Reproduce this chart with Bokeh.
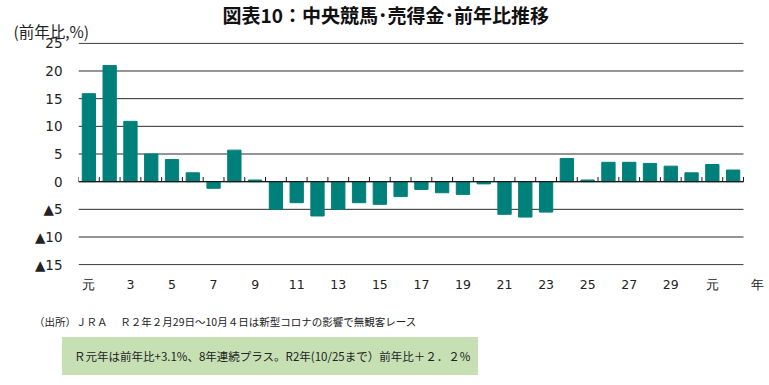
from bokeh.plotting import figure
from bokeh.models import Range1d, FixedTicker, Title, Div
from bokeh.layouts import column
from bokeh.embed import file_html
from bokeh.resources import INLINE

# ---- data ----
years = ["元", "2", "3", "4", "5", "6", "7", "8", "9", "10", "11", "12", "13", "14", "15",
         "16", "17", "18", "19", "20", "21", "22", "23", "24", "25", "26", "27", "28", "29",
         "30", "元", "2"]
values = [15.9, 21.0, 10.9, 5.0, 4.0, 1.6, -1.2, 5.7, 0.3, -5.0, -3.8, -6.2, -5.0, -3.8,
          -4.1, -2.7, -1.4, -2.0, -2.3, -0.4, -5.9, -6.4, -5.5, 4.2, 0.3, 3.5, 3.5, 3.3,
          2.8, 1.6, 3.1, 2.1]
y_ticks = [-15, -10, -5, 0, 5, 10, 15, 20, 25]
y_tick_labels = ["▲15", "▲10", "▲5", "0", "5", "10", "15", "20", "25"]

title_text = "図表10：中央競馬･売得金･前年比推移"
unit_text = "(前年比,%)"
year_text = "年"
note_text = "（出所）ＪＲＡ　 Ｒ２年２月29日～10月４日は新型コロナの影響で無観客レース"
box_text = "Ｒ元年は前年比+3.1%、8年連続プラス。R2年(10/25まで）前年比＋２．２%"

JP = "Noto Sans CJK JP"
NUM = "DejaVu Sans"
BAR = "#00807A"
GRID = "#2b2b2b"
W = 766

n = len(years)
xs = list(range(1, n + 1))
x_year = n + 1.17          # position of the axis unit "年"

# ---------------- chart ----------------
p = figure(width=W, height=298, output_backend="svg", toolbar_location=None,
           x_range=Range1d(0.5, n + 1.51), y_range=Range1d(-15.15, 25.15),
           min_border_left=78, min_border_right=2, min_border_top=42, min_border_bottom=33)
p.outline_line_color = None
p.background_fill_color = "white"
p.border_fill_color = "white"
p.xgrid.visible = False
p.ygrid.visible = False

# horizontal gridlines over the category span only
p.segment(x0=[0.5] * len(y_ticks), y0=y_ticks, x1=[n + 0.5] * len(y_ticks), y1=y_ticks,
          line_color=GRID, line_width=1)

p.vbar(x=xs, top=values, bottom=0, width=0.64, fill_color=BAR, line_color=BAR)

# zero line and category-boundary tick marks
p.segment(x0=[0.5], y0=[0], x1=[n + 0.5], y1=[0], line_color="#1a1a1a", line_width=1.3)
bounds = [i + 0.5 for i in range(0, n + 1)]
p.segment(x0=bounds, y0=[0] * len(bounds), x1=bounds, y1=[0.85] * len(bounds),
          line_color="#1a1a1a", line_width=1)

# y axis
p.yaxis.ticker = FixedTicker(ticks=y_ticks)
p.yaxis.major_label_overrides = {t: l for t, l in zip(y_ticks, y_tick_labels)}
p.yaxis.axis_line_color = None
p.yaxis.major_tick_line_color = None
p.yaxis.minor_tick_line_color = None
p.yaxis.major_tick_out = 0
p.yaxis.major_tick_in = 0
p.yaxis.minor_tick_out = 0
p.yaxis.major_label_standoff = 16
p.yaxis.major_label_text_font = NUM
p.yaxis.major_label_text_font_size = "13.5px"
p.yaxis.major_label_text_color = "#222222"

# x axis (odd years labelled, plus the unit "年")
xt = xs[0::2] + [x_year]
overrides = {x: years[x - 1] for x in xs[0::2]}
overrides[x_year] = year_text
p.xaxis.ticker = FixedTicker(ticks=xt)
p.xaxis.major_label_overrides = overrides
p.xaxis.axis_line_color = None
p.xaxis.major_tick_line_color = None
p.xaxis.minor_tick_line_color = None
p.xaxis.major_tick_out = 0
p.xaxis.major_tick_in = 0
p.xaxis.minor_tick_out = 0
p.xaxis.major_label_standoff = 11
p.xaxis.major_label_text_font = NUM
p.xaxis.major_label_text_font_size = "12.5px"
p.xaxis.major_label_text_color = "#222222"

# titles above: main title outermost, unit label next to the frame
p.title.text = title_text
p.title.text_font = JP
p.title.text_font_size = "19px"
p.title.text_font_style = "bold"
p.title.text_color = "#111111"
p.title.align = "left"
p.title.offset = 144
p.title.standoff = -20

p.add_layout(Title(text=unit_text, text_font=JP, text_font_size="15.5px",
                   text_font_style="normal", text_color="#222222",
                   align="left", offset=-65, standoff=1), "above")

# ---------------- notes strip ----------------
notes_html = (
    '<div style="position:relative;width:%dpx;height:85px;'
    'font-family:\'Noto Sans CJK JP\';color:#222222;">'
    '<div style="position:absolute;left:29px;top:11px;font-size:10.5px;'
    'line-height:16px;white-space:nowrap;">%s</div>'
    '<div style="position:absolute;left:57px;top:34px;height:38px;line-height:38px;'
    'padding:0 8px 0 12px;background:#C6E0B4;font-size:11.5px;white-space:nowrap;">%s</div>'
    '</div>' % (W, note_text, box_text)
)
notes = Div(text=notes_html, width=W, height=85)

layout = column(p, notes, spacing=0)
open("out.html", "w").write(file_html(layout, INLINE))
